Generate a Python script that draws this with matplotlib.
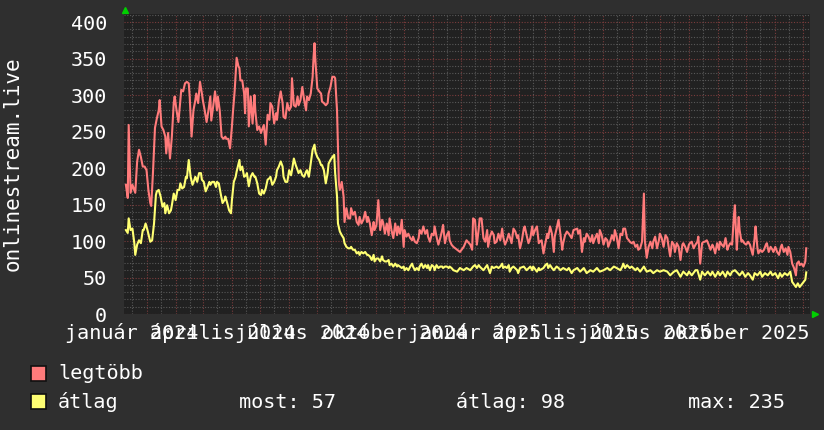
import datetime as dt
import matplotlib
matplotlib.use('Agg')
import matplotlib.pyplot as plt
import matplotlib.dates as mdates
from matplotlib.patches import Rectangle
from matplotlib.ticker import MultipleLocator, NullFormatter

# ---------------- data ----------------
start_date = dt.datetime(2023, 12, 8)
end_date = dt.datetime(2025, 12, 8)

# (days since start_date, value)
legtobb = [(2,177),(4,159),(5,259),(7,166),(9,177),(12,166),(14,209),(16,225),(18,215),(20,202),(22,202),(24,197),(26,170),(28,152),(29,148),(31,197),(33,255),(35,268),(37,279),(38,293),(40,257),(42,252),(44,243),(45,220),(47,248),(49,213),(51,243),(53,289),(54,298),(56,279),(58,263),(60,293),(61,307),(63,305),(65,316),(67,318),(69,316),(70,298),(72,243),(74,279),(76,293),(77,302),(79,289),(81,318),(83,302),(84,293),(86,279),(88,263),(90,279),(92,298),(93,265),(95,284),(97,305),(99,279),(100,298),(102,279),(104,243),(106,240),(108,243),(109,240),(111,240),(113,227),(115,257),(116,275),(118,307),(120,351),(122,339),
           (123,337),(124,320),(126,320),(128,302),(129,275),(130,309),(132,309),(133,257),(135,298),(137,261),(139,300),(140,277),(142,252),(144,257),(146,248),(147,252),(149,259),(151,232),(153,273),(155,266),(156,289),(158,284),(160,261),(162,275),(163,266),(165,291),(167,305),(169,289),(170,270),(172,268),(174,289),(176,279),(178,284),(179,323),(181,286),(183,284),(185,298),(186,286),(188,293),(190,311),(192,293),(194,279),(195,298),(197,293),(199,302),(201,325),(202,352),(203,371),(204,346),(206,309),(208,305),(210,302),(211,291),(213,289),(215,286),(217,289),(218,302),(220,311),(222,325),(224,325),(225,323),(227,279),(228,229),(229,179),(230,170),(232,181),(234,161),(235,126),(237,145),(239,131),(241,131),(242,145),(244,136),(246,140),(248,126),(250,122),(251,133),(253,124),(255,129),(257,140),(259,126),(260,133),(262,124),(264,108),(266,126),(267,115),(269,122),(271,156),(273,115),(275,129),(276,126),(278,110),(280,124),(282,108),(283,131),(285,115),(287,104),(289,124),(291,108),(292,120),(294,110),(296,129),(298,92),(299,115),(301,106),(303,110),(305,104),(307,101),(308,106),(310,99),(312,97),(314,104),(315,115),(317,110),(319,120),(321,110),(323,115),(324,106),(326,99),(328,110),(330,108),(331,120),(333,106),(335,95),(337,104),(339,115),(340,122),(342,97),(344,108),(346,113),(347,101),(349,95),(351,92),
           (355,88),(358,85),(362,92),(365,101),(369,95),(371,88),(372,131),(374,129),(376,95),(378,117),(379,131),(381,131),(383,104),(385,99),(387,115),(388,92),(390,106),(392,113),(394,108),(395,97),(397,99),(399,110),(401,101),(403,117),(404,106),(406,95),(408,101),(410,110),(411,106),(413,97),(415,117),(417,113),(419,104),(420,108),(422,90),(424,101),(426,117),(427,120),(429,108),(431,97),(433,104),(435,120),(436,108),(438,115),(440,120),(442,97),(443,99),(445,101),(447,83),(449,97),(451,110),(452,104),(454,120),(456,110),(458,85),(459,106),(461,117),(463,129),(465,110),(467,88),(468,97),(470,108),(472,113),
           (474,110),(477,104),(479,115),(483,117),(484,110),(486,115),(488,85),(490,104),(491,99),(493,110),(495,106),(497,99),(499,108),(500,97),(502,104),(504,110),(506,97),(507,115),(509,108),(511,95),(513,104),(515,101),(516,92),(518,99),(520,108),(522,101),(523,115),(525,106),(527,90),(529,110),(531,108),(532,117),(534,117),(536,104),(538,101),(539,99),(541,97),(543,99),(545,92),(547,95),(548,88),(550,90),(552,99),(554,165),(555,101),(557,77),(559,92),(561,99),(563,90),(564,99),(566,106),(568,90),(570,101),(571,110),(573,104),(575,92),(577,108),(579,104),(580,95),(582,79),(584,99),(586,95),(587,85),(589,97),(591,92),(593,74),(595,95),(596,97),(598,92),
           (600,85),(602,95),(603,97),(605,99),(607,90),(609,95),(611,99),(612,106),(614,69),(616,97),(618,99),(619,99),(621,101),(623,95),(625,88),(627,95),(628,92),(630,83),(632,97),(634,88),(635,99),(637,95),(639,92),(641,104),(643,88),(644,92),(646,97),(648,95),(650,136),(651,149),(652,115),(653,88),(655,133),(656,115),(658,99),(659,101),(661,97),(663,95),(665,99),(667,95),(668,90),(670,81),(672,104),(673,120),(675,90),(676,83),(678,88),(680,85),(682,88),(684,95),(685,97),(687,85),(689,92),(691,88),(692,85),(694,92),(696,85),(698,81),(700,92),(701,95),(703,85),(705,90),(707,81),(708,92),(710,85),(712,69),(714,63),(716,53),(717,69),(719,72),(720,67),(722,69),(724,65),(726,72),(727,90)]

atlag = [(2,115),(4,111),(5,131),(7,115),(9,117),(11,97),(12,81),(14,95),(16,101),(18,97),(20,115),(21,115),(23,124),(25,115),(27,104),(28,99),(30,101),(32,124),(34,163),(35,168),(37,170),(39,161),(41,147),(43,152),(44,138),(46,149),(48,138),(50,142),(51,149),(53,165),(55,156),(57,170),(59,170),(60,179),(62,172),(64,174),(66,188),(67,186),(69,211),(71,188),(73,177),(75,184),(76,188),(78,181),(80,193),(82,193),(83,184),(85,181),(87,168),(89,174),(91,181),(92,177),(94,181),(96,181),(98,174),(99,181),(101,179),(103,165),(105,152),(107,156),(108,161),(110,152),(112,142),(114,138),(115,156),(117,181),(119,188),(120,195),
         (123,211),(124,197),(126,202),(128,188),(130,190),(131,193),(133,175),(135,188),(137,193),(139,188),(140,188),(142,179),(144,165),(146,163),(147,170),(149,165),(151,172),(153,184),(155,186),(156,188),(158,177),(160,181),(162,188),(163,197),(165,202),(167,209),(169,202),(170,188),(172,181),(174,181),(176,197),(178,190),(179,197),(181,213),(183,204),(185,197),(186,193),(188,197),(190,190),(192,188),(194,195),(195,197),(197,188),(199,206),(201,225),(203,232),(204,222),(206,215),(208,211),(210,204),(211,204),(213,197),(215,179),(217,193),(218,206),(220,211),(222,215),(224,218),(225,193),(227,161),(228,124),(230,113),(232,108),(234,104),(235,97),(237,92),(239,90),(241,90),(242,92),(244,88),(246,88),(248,83),(250,85),(251,81),(253,85),(255,83),(257,85),(259,81),(260,81),(262,79),(264,74),(266,81),(267,72),(269,76),(271,76),(273,72),(275,79),(276,74),(278,72),(280,72),(282,74),(283,67),(285,69),(287,65),(289,69),(291,65),(292,67),(294,65),(296,63),(298,65),(299,60),(301,63),(303,60),(305,65),(307,69),(308,65),(310,60),(312,63),(314,60),(315,65),(317,69),(319,63),(321,67),(323,63),(324,67),(326,60),(328,67),(330,65),(331,60),(333,67),(335,63),(337,65),(339,65),(340,63),(342,65),(344,65),(346,63),(347,65),(349,63),(351,60),
         (355,58),(358,63),(362,60),(365,63),(369,60),(372,65),(374,67),(376,63),(378,67),(379,65),(383,60),(387,67),(388,63),(390,56),(392,65),(394,63),(397,65),(399,63),(401,65),(403,69),(404,63),(406,65),(408,63),(410,67),(411,58),(413,63),(415,65),(419,60),(420,56),(422,63),(426,65),(429,60),(433,65),(435,60),(436,65),(440,58),(442,63),(443,60),(447,63),(449,67),(451,69),(452,63),(454,67),(456,63),(458,60),(461,65),(463,63),(465,60),(468,63),(472,60),
         (474,63),(477,56),(479,60),(483,63),(486,58),(490,63),(493,56),(497,60),(500,58),(504,63),(507,58),(511,60),(515,63),(518,60),(522,65),(525,63),(529,60),(531,65),(532,69),(534,63),(536,67),(539,63),(541,65),(545,60),(547,63),(550,58),(554,65),(557,58),(561,60),(564,56),(568,60),(571,58),(575,60),(579,58),(582,53),(586,58),(589,60),(593,51),(596,58),
         (600,53),(602,58),(605,53),(609,60),(611,60),(614,47),(616,58),(619,53),(622,58),(625,53),(627,58),(630,51),(633,58),(635,53),(638,58),(641,51),(643,58),(646,53),(648,58),(651,60),(654,56),(656,53),(659,58),(662,51),(665,56),(667,53),(670,47),(672,56),(675,53),(678,58),(680,51),(683,56),(686,53),(689,58),(691,53),(694,56),(697,49),(699,56),(701,51),(704,56),(707,53),(710,58),(712,44),(716,37),(718,42),(720,37),(723,42),(726,47),(727,57)]

y_ticks = [0, 50, 100, 150, 200, 250, 300, 350, 400]
x_label_dates = [(2024, 1), (2024, 4), (2024, 7), (2024, 10), (2025, 1), (2025, 4), (2025, 7), (2025, 10)]
x_labels = ['január 2024', 'április 2024', 'július 2024', 'október 2024',
            'január 2025', 'április 2025', 'július 2025', 'október 2025']
series_names = ['legtöbb', 'átlag']
stat_labels = ['most: 57', 'átlag: 98', 'max: 235']
y_axis_title = 'onlinestream.live'

# ---------------- style ----------------
BG = '#2f2f2f'
PLOT_BG = '#212121'
RED = '#ff7b7b'
YELLOW = '#ffff73'
FS = 14.5
plt.rcParams['font.family'] = ['DejaVu Sans Mono', 'DejaVu Sans']

W, H = 824, 430
fig = plt.figure(figsize=(W / 100, H / 100), dpi=100, facecolor=BG)
ax = fig.add_axes([124 / W, 1 - 314 / H, 686 / W, 300 / H])
ax.set_facecolor(PLOT_BG)
for s in ax.spines.values():
    s.set_visible(False)


def to_xy(series):
    xs = [start_date + dt.timedelta(days=d) for d, _ in series]
    ys = [v for _, v in series]
    return xs, ys


rx, ry = to_xy(legtobb)
yx, yy = to_xy(atlag)
ax.plot(rx, ry, color=RED, lw=1.5, zorder=3)
ax.plot(yx, yy, color=YELLOW, lw=1.5, zorder=4)

ax.set_xlim(start_date, end_date)
ax.set_ylim(0, 411)

# grid
ax.set_yticks(y_ticks)
ax.yaxis.set_minor_locator(MultipleLocator(10))
ax.xaxis.set_major_locator(mdates.MonthLocator())
ax.xaxis.set_minor_locator(mdates.DayLocator(bymonthday=[16]))
ax.xaxis.set_major_formatter(NullFormatter())
ax.grid(which='minor', color='#585858', lw=0.8, ls=(0, (1, 1.5)), zorder=1)
ax.grid(which='major', color='#7a3c3c', lw=0.8, ls=(0, (1, 1.5)), zorder=2)
ax.set_axisbelow(True)
ax.tick_params(axis='x', which='both', length=0, labelbottom=False)
ax.tick_params(axis='y', which='both', length=0, pad=12, labelsize=FS, labelcolor='white')

# x labels (rrdtool style, overlapping)
for (yr, mo), lab in zip(x_label_dates, x_labels):
    xd = mdates.date2num(dt.datetime(yr, mo, 1))
    ax.annotate(lab, xy=(xd, 0), xycoords=('data', 'axes fraction'),
                xytext=(-82 * 0.72, -25 * 0.72), textcoords='offset points',
                ha='left', va='baseline', color='white', fontsize=FS,
                annotation_clip=False)

# arrows
ax.plot([0.0015], [1.015], marker='^', color='#00d000', ms=4.5, transform=ax.transAxes, clip_on=False)
ax.plot([1.007], [0.0], marker='>', color='#00d000', ms=4.5, transform=ax.transAxes, clip_on=False)

# y title
fig.text(13 / W, 1 - 164 / H, y_axis_title, rotation=90, ha='center', va='center',
         color='white', fontsize=FS + 0.5)

# legend
fig.patches.append(Rectangle((31 / W, 1 - 381 / H), 15 / W, 15 / H, transform=fig.transFigure,
                             fc=RED, ec='#101010', lw=1.2))
fig.patches.append(Rectangle((31 / W, 1 - 409 / H), 15 / W, 15 / H, transform=fig.transFigure,
                             fc=YELLOW, ec='#101010', lw=1.2))
fig.text(58 / W, 1 - 379 / H, series_names[0], ha='left', va='baseline', color='white', fontsize=FS)
fig.text(58 / W, 1 - 408 / H, series_names[1], ha='left', va='baseline', color='white', fontsize=FS)
for xpix, lab in zip([239, 456, 688], stat_labels):
    fig.text(xpix / W, 1 - 408 / H, lab, ha='left', va='baseline', color='white', fontsize=FS)

fig.savefig('out.png', dpi=100, facecolor=BG)
